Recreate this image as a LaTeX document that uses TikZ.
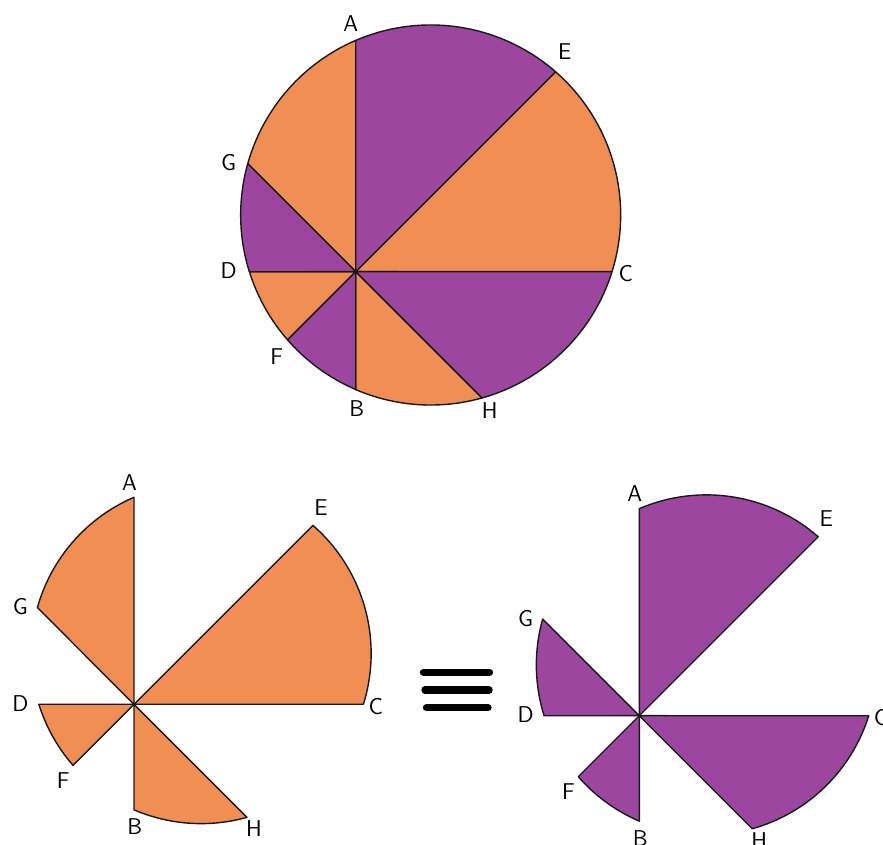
\documentclass[tikz,border=0pt]{standalone}
\usepackage{xcolor}
\usepackage{tikz}
\usetikzlibrary{calc}
\definecolor{PZorange}{RGB}{240,142,84}
\definecolor{PZpurple}{RGB}{157,70,160}
\tikzstyle{slice} = [draw=black!90, line width=0.8pt, line join=round]
\tikzstyle{Sorg}  = [slice, fill=PZorange]
\tikzstyle{Spur}  = [slice, fill=PZpurple]
\tikzstyle{plbl}  = [inner sep=0pt, font=\fontsize{13}{15}\selectfont\sffamily]
\tikzstyle{eqbar} = [line width=4.2pt, line cap=round]

\newcommand{\orgslices}{%
  \filldraw[Sorg] (0,0) -- (0:256.3)   arc[start angle=-17.37, end angle=48.9,   radius=190] -- cycle;
  \filldraw[Sorg] (0,0) -- (90:231.3)  arc[start angle=113.25, end angle=164.34, radius=190] -- cycle;
  \filldraw[Sorg] (0,0) -- (180:106.3) arc[start angle=197.37, end angle=221.1,  radius=190] -- cycle;
  \filldraw[Sorg] (0,0) -- (270:117.9) arc[start angle=246.75, end angle=285.66, radius=190] -- cycle;}
\newcommand{\purslices}{%
  \filldraw[Spur] (0,0) -- (45:282.7)  arc[start angle=48.9,   end angle=113.25, radius=190] -- cycle;
  \filldraw[Spur] (0,0) -- (135:152.7) arc[start angle=164.34, end angle=197.37, radius=190] -- cycle;
  \filldraw[Spur] (0,0) -- (225:96.4)  arc[start angle=221.1,  end angle=246.75, radius=190] -- cycle;
  \filldraw[Spur] (0,0) -- (315:178.6) arc[start angle=285.66, end angle=342.63, radius=190] -- cycle;}
\newcommand{\pizzalabels}{%
  \node[plbl] (lA) at (-5,248)   {A};
  \node[plbl] (lE) at (209,220)  {E};
  \node[plbl] (lG) at (-127,109) {G};
  \node[plbl] (lD) at (-127,1)   {D};
  \node[plbl] (lC) at (270,-2)   {C};
  \node[plbl] (lF) at (-79,-85)  {F};
  \node[plbl] (lB) at (1,-137)   {B};
  \node[plbl] (lH) at (134,-139) {H};}

\begin{document}
\begin{tikzpicture}[x=0.02cm, y=0.02cm]
  \useasboundingbox (0,0) rectangle (883,845);

  \begin{scope}[shift={(355.7,573.3)}]
    \orgslices
    \purslices
    \pizzalabels
  \end{scope}

  \begin{scope}[shift={(134,140.7)}, scale=0.895]
    \orgslices
    \pizzalabels
  \end{scope}

  \begin{scope}[shift={(639.3,129.3)}, scale=0.895]
    \purslices
    \pizzalabels
  \end{scope}

  \coordinate (q1) at (423.5,172.7);  \coordinate (q2) at (489.5,172.7);
  \coordinate (q3) at (425,155);      \coordinate (q4) at (489,155);
  \coordinate (q5) at (426.5,137.3);  \coordinate (q6) at (488,137.3);
  \draw[eqbar] (q1) -- (q2);
  \draw[eqbar] (q3) -- (q4);
  \draw[eqbar] (q5) -- (q6);
\end{tikzpicture}
\end{document}
